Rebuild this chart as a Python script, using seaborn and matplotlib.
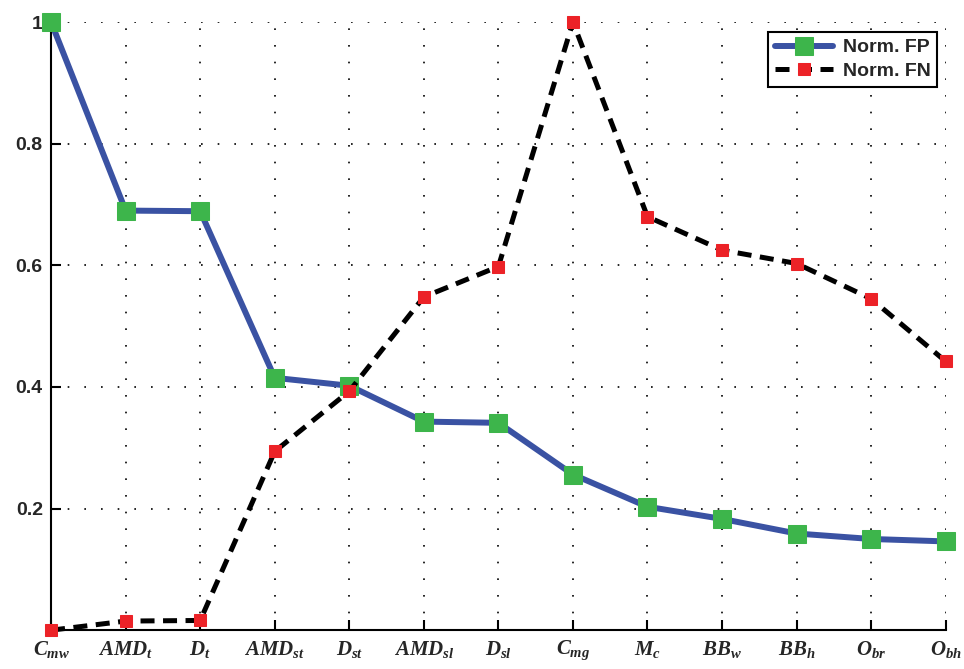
import matplotlib
matplotlib.use("Agg")
import matplotlib.pyplot as plt
import seaborn as sns
import numpy as np
import pandas as pd

categories = [r"$C_{mw}$", r"$AMD_{t}$", r"$D_{t}$", r"$AMD_{st}$", r"$D_{st}$",
              r"$AMD_{sl}$", r"$D_{sl}$", r"$C_{mg}$", r"$M_{c}$", r"$BB_{w}$",
              r"$BB_{h}$", r"$O_{br}$", r"$O_{bh}$"]
norm_fp = [1.0, 0.690, 0.689, 0.415, 0.402, 0.343, 0.341, 0.256, 0.203, 0.183, 0.159, 0.150, 0.146]
norm_fn = [0.0, 0.015, 0.016, 0.294, 0.393, 0.548, 0.598, 1.0, 0.680, 0.625, 0.603, 0.545, 0.442]
yticks = [0.2, 0.4, 0.6, 0.8, 1.0]
yticklabels = ["0.2", "0.4", "0.6", "0.8", "1"]

sns.set_style("white")
plt.rcParams['font.family'] = ['Liberation Sans', 'DejaVu Sans']
plt.rcParams['mathtext.fontset'] = 'custom'
plt.rcParams['mathtext.it'] = 'Liberation Serif:italic:bold'
plt.rcParams['mathtext.rm'] = 'Liberation Serif:bold'

df = pd.DataFrame({"idx": np.arange(len(categories)), "fp": norm_fp, "fn": norm_fn})

fig = plt.figure(figsize=(9.64, 6.69), dpi=100)
ax = fig.add_axes([0.053, 0.058, 0.928, 0.909])

sns.lineplot(data=df, x="idx", y="fp", ax=ax, color="#3a52a3", linewidth=4.3,
             marker="s", markersize=13, markerfacecolor="#3db54b", markeredgecolor="#3db54b",
             label="Norm. FP", clip_on=False, zorder=3)
sns.lineplot(data=df, x="idx", y="fn", ax=ax, color="black", linewidth=3.6,
             marker="s", markersize=8.5, markerfacecolor="#ec2227", markeredgecolor="#ec2227",
             label="Norm. FN", clip_on=False, zorder=4)
ax.lines[1].set_linestyle((0, (2.8, 1.7)))

ax.set_xlim(0, len(categories) - 1)
ax.set_ylim(0, 1)
ax.set_xticks(df["idx"])
ax.set_xticklabels(categories, fontsize=15)
ax.set_yticks(yticks)
ax.set_yticklabels(yticklabels, fontsize=14, fontweight="bold")
ax.set_xlabel("")
ax.set_ylabel("")

ax.grid(True, color="black", linestyle=(0, (1, 9)), linewidth=1.2)
ax.set_axisbelow(True)

for s in ["top", "right"]:
    ax.spines[s].set_visible(False)
for s in ["left", "bottom"]:
    ax.spines[s].set_color("black")
    ax.spines[s].set_linewidth(1.5)

ax.tick_params(axis="both", direction="in", length=7, width=1.5, color="black",
               left=True, bottom=True, pad=6)

leg = ax.legend(loc="upper right", bbox_to_anchor=(0.995, 0.99), frameon=True, fancybox=False,
                edgecolor="black", framealpha=1, prop={"weight": "bold", "size": 14},
                handlelength=3.0, borderpad=0.35, labelspacing=0.3, handletextpad=0.5,
                borderaxespad=0.2)
leg.get_frame().set_linewidth(1.5)

fig.savefig("out.png", dpi=100)
